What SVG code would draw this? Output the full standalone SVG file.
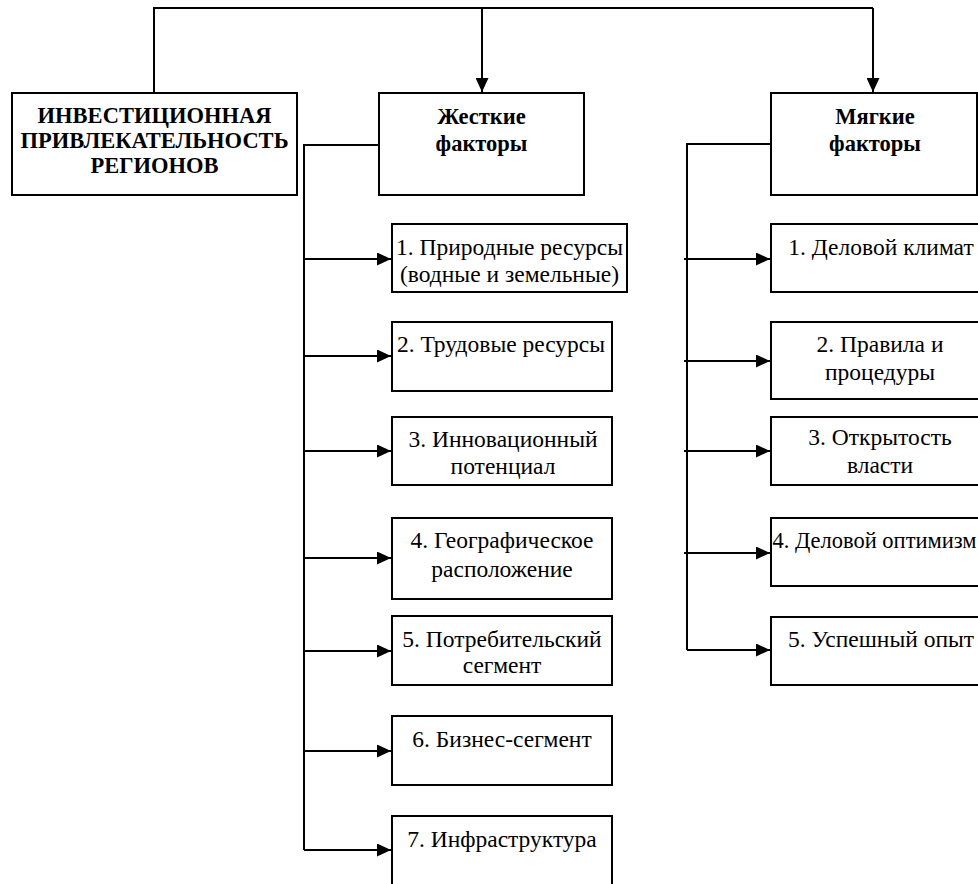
<svg xmlns="http://www.w3.org/2000/svg" width="978" height="884" viewBox="0 0 978 884">
<style>
.box{fill:#fff;stroke:#000;stroke-width:2}
.lbl{font-family:'Liberation Serif',serif !important;font-size:23.5px;fill:#000;text-anchor:middle}
.bold{font-weight:bold;font-size:22.5px}
.c{fill:none;stroke:#000;stroke-width:2}
</style>
<defs>
<marker id="ah" viewBox="0 0 14 13" refX="14" refY="6.5" markerWidth="14" markerHeight="13" markerUnits="userSpaceOnUse" orient="auto">
<path d="M0,0 L14,6.5 L0,13 Z" fill="#000"/>
</marker>
</defs>
<rect width="978" height="884" fill="#fff"/>
<g id="connectors">
<path class="c" d="M154,93 V8 H873"/>
<path class="c" d="M482,8 V92" marker-end="url(#ah)"/>
<path class="c" d="M873,8 V92" marker-end="url(#ah)"/>
<path class="c" d="M379,145 H304 V850"/>
<path class="c" d="M304,259 H391" marker-end="url(#ah)"/>
<path class="c" d="M304,356 H391" marker-end="url(#ah)"/>
<path class="c" d="M304,451 H391" marker-end="url(#ah)"/>
<path class="c" d="M304,558 H391" marker-end="url(#ah)"/>
<path class="c" d="M304,651 H391" marker-end="url(#ah)"/>
<path class="c" d="M304,751 H391" marker-end="url(#ah)"/>
<path class="c" d="M304,850 H391" marker-end="url(#ah)"/>
<path class="c" d="M771,144 H687 V650"/>
<path class="c" d="M684,259 H770" marker-end="url(#ah)"/>
<path class="c" d="M684,361 H770" marker-end="url(#ah)"/>
<path class="c" d="M684,451 H770" marker-end="url(#ah)"/>
<path class="c" d="M684,553 H770" marker-end="url(#ah)"/>
<path class="c" d="M687,650 H770" marker-end="url(#ah)"/>
</g>
<g id="root">
<rect class="box" x="12" y="93" width="285" height="102"/>
<text class="lbl bold" font-family="Liberation Serif" x="154.5" y="123">ИНВЕСТИЦИОННАЯ</text>
<text class="lbl bold" font-family="Liberation Serif" x="154.5" y="148">ПРИВЛЕКАТЕЛЬНОСТЬ</text>
<text class="lbl bold" font-family="Liberation Serif" x="154.5" y="173">РЕГИОНОВ</text>
</g>
<g id="hard">
<rect class="box" x="379" y="93" width="205" height="102"/>
<text class="lbl bold" font-family="Liberation Serif" x="481.5" y="124">Жесткие</text>
<text class="lbl bold" font-family="Liberation Serif" x="481.5" y="151">факторы</text>
</g>
<g id="soft">
<rect class="box" x="771" y="93" width="206" height="102"/>
<text class="lbl bold" font-family="Liberation Serif" x="875" y="124">Мягкие</text>
<text class="lbl bold" font-family="Liberation Serif" x="875" y="151">факторы</text>
</g>
<g id="h1">
<rect class="box" x="392" y="224" width="235" height="68"/>
<text class="lbl" font-family="Liberation Serif" x="509.5" y="255">1. Природные ресурсы</text>
<text class="lbl" font-family="Liberation Serif" x="509.5" y="282">(водные и земельные)</text>
</g>
<g id="h2">
<rect class="box" x="392" y="322" width="220" height="69"/>
<text class="lbl" font-family="Liberation Serif" x="501" y="352">2. Трудовые ресурсы</text>
</g>
<g id="h3">
<rect class="box" x="392" y="417" width="220" height="68"/>
<text class="lbl" font-family="Liberation Serif" x="503" y="447">3. Инновационный</text>
<text class="lbl" font-family="Liberation Serif" x="503" y="474">потенциал</text>
</g>
<g id="h4">
<rect class="box" x="392" y="518" width="220" height="81"/>
<text class="lbl" font-family="Liberation Serif" x="502" y="548">4. Географическое</text>
<text class="lbl" font-family="Liberation Serif" x="502" y="577">расположение</text>
</g>
<g id="h5">
<rect class="box" x="392" y="616" width="220" height="69"/>
<text class="lbl" font-family="Liberation Serif" x="502" y="647">5. Потребительский</text>
<text class="lbl" font-family="Liberation Serif" x="502" y="673">сегмент</text>
</g>
<g id="h6">
<rect class="box" x="392" y="716" width="220" height="69"/>
<text class="lbl" font-family="Liberation Serif" x="502" y="747">6. Бизнес-сегмент</text>
</g>
<g id="h7">
<rect class="box" x="392" y="816" width="220" height="90"/>
<text class="lbl" font-family="Liberation Serif" x="502" y="847">7. Инфраструктура</text>
</g>
<g id="s1">
<rect class="box" x="771" y="224" width="220" height="68"/>
<text class="lbl" font-family="Liberation Serif" x="881" y="255">1. Деловой климат</text>
</g>
<g id="s2">
<rect class="box" x="771" y="322" width="220" height="77"/>
<text class="lbl" font-family="Liberation Serif" x="880" y="352">2. Правила и</text>
<text class="lbl" font-family="Liberation Serif" x="880" y="380">процедуры</text>
</g>
<g id="s3">
<rect class="box" x="771" y="417" width="220" height="68"/>
<text class="lbl" font-family="Liberation Serif" x="880" y="445">3. Открытость</text>
<text class="lbl" font-family="Liberation Serif" x="880" y="473">власти</text>
</g>
<g id="s4">
<rect class="box" x="771" y="518" width="220" height="68"/>
<text class="lbl" font-family="Liberation Serif" x="874.5" y="548" style="font-size:22.5px">4. Деловой оптимизм</text>
</g>
<g id="s5">
<rect class="box" x="771" y="617" width="220" height="68"/>
<text class="lbl" font-family="Liberation Serif" x="881" y="647">5. Успешный опыт</text>
</g>
</svg>
